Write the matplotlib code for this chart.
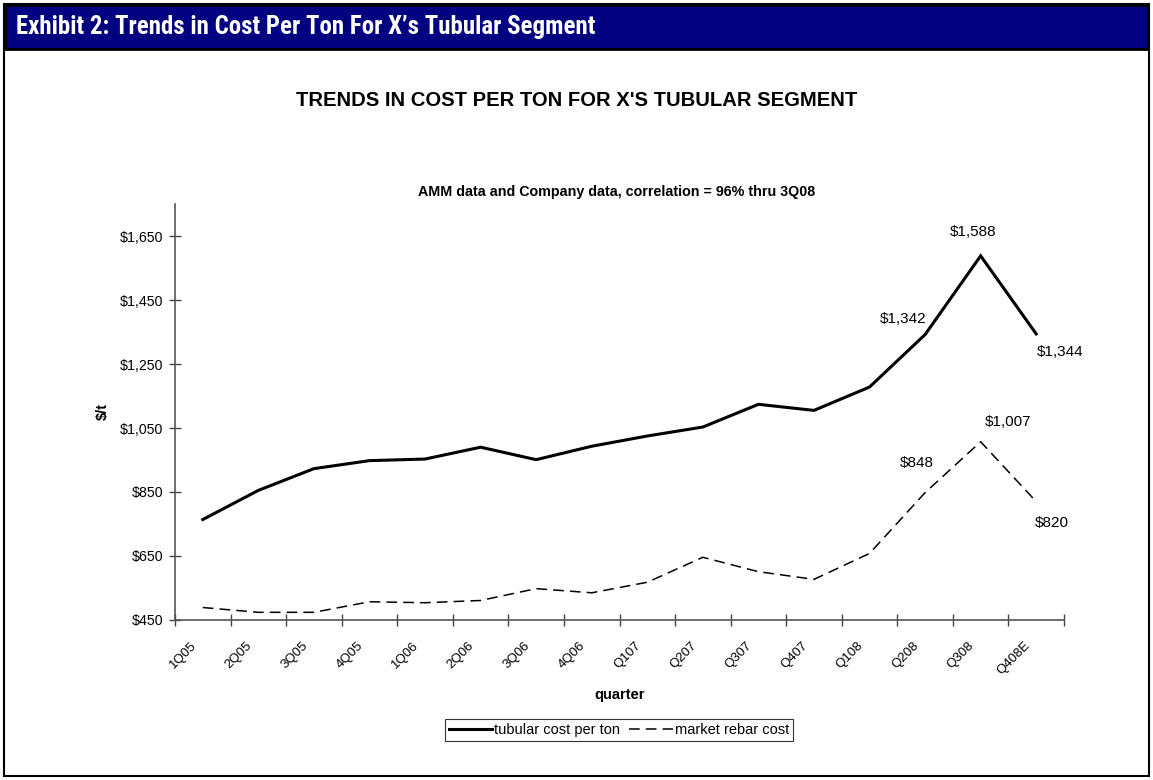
import matplotlib
matplotlib.use("Agg")
import matplotlib.pyplot as plt
from matplotlib import font_manager as fm
from matplotlib.patches import Rectangle
from matplotlib.transforms import ScaledTranslation
from matplotlib.ticker import FuncFormatter, FixedLocator, NullFormatter

plt.rcParams['font.family'] = ['Liberation Sans', 'DejaVu Sans']

quarters = ["1Q05", "2Q05", "3Q05", "4Q05", "1Q06", "2Q06", "3Q06", "4Q06",
            "Q107", "Q207", "Q307", "Q407", "Q108", "Q208", "Q308", "Q408E"]
tubular = [764, 855, 923, 948, 953, 990, 951, 993,
           1025, 1053, 1124, 1105, 1178, 1342, 1588, 1344]
rebar = [489, 474, 474, 507, 504, 511, 548, 535,
         568, 646, 601, 577, 658, 848, 1007, 820]
yticks = [450, 650, 850, 1050, 1250, 1450, 1650]

# pick a condensed font for the header if one exists
header_family, header_size = 'Liberation Sans', 15
for fam, size in [('Liberation Sans Narrow', 18), ('Roboto Condensed', 17.9),
                  ('DejaVu Sans Condensed', 15.5)]:
    try:
        fm.findfont(fm.FontProperties(family=fam, weight='bold'), fallback_to_default=False)
        header_family, header_size = fam, size
        break
    except Exception:
        pass

W, H = 1153, 780
fig = plt.figure(figsize=(W / 100, H / 100), dpi=100)

# frame and header bar
fig.patches.append(Rectangle((4 / W, 4 / H), 1145 / W, 772 / H, transform=fig.transFigure,
                             facecolor='none', edgecolor='black', linewidth=1.5, zorder=-1))
fig.patches.append(Rectangle((5 / W, 1 - 49 / H), 1143 / W, 44 / H, transform=fig.transFigure,
                             facecolor='#000080', edgecolor='black', linewidth=2, zorder=-1))
fig.text(16 / W, 1 - 27 / H, "Exhibit 2: Trends in Cost Per Ton For X\u2019s Tubular Segment",
         color='white', fontsize=header_size, fontweight='bold', ha='left', va='center',
         family=[header_family, 'DejaVu Sans'])

fig.text(577 / W, 1 - 101 / H, "TRENDS IN COST PER TON FOR X'S TUBULAR SEGMENT",
         fontsize=14.6, fontweight='bold', ha='center', va='center')
fig.text(617 / W, 1 - 192 / H, "AMM data and Company data, correlation = 96% thru 3Q08",
         fontsize=10.3, fontweight='bold', ha='center', va='center')

ax = fig.add_axes([175 / W, 160 / H, 889 / W, 416 / H])
ax.patch.set_alpha(0)
x = list(range(len(quarters)))
ax.plot(x, tubular, color='black', linewidth=2.2, solid_joinstyle='miter',
        label='tubular cost per ton')
ax.plot(x, rebar, color='black', linewidth=1.1, dashes=(7, 4),
        label='market rebar cost')

ax.set_xlim(-0.5, len(quarters) - 0.5)
ax.set_ylim(450, 1750)
ax.yaxis.set_major_locator(FixedLocator(yticks))
ax.yaxis.set_major_formatter(FuncFormatter(lambda v, p: "${:,.0f}".format(v)))
ax.xaxis.set_major_locator(FixedLocator([i - 0.5 for i in range(len(quarters) + 1)]))
ax.xaxis.set_major_formatter(NullFormatter())
ax.set_xticks(x, quarters, minor=True)
ax.tick_params(axis='x', which='minor', length=0, pad=14, labelsize=9.5, labelrotation=45)
shift = ScaledTranslation(-4 / 100, 0, fig.dpi_scale_trans)
for lab in ax.get_xticklabels(minor=True):
    lab.set_ha('right')
    lab.set_va('top')
    lab.set_transform(lab.get_transform() + shift)
ax.tick_params(axis='x', which='major', direction='inout', length=9, width=1, color='#444444')
ax.tick_params(axis='y', direction='inout', length=9, width=1, color='#444444', labelsize=10.2, pad=4)
for s in ['top', 'right']:
    ax.spines[s].set_visible(False)
for s in ['left', 'bottom']:
    ax.spines[s].set_color('#555555')
    ax.spines[s].set_linewidth(1.2)

ax.set_ylabel("$/t", fontsize=10.5, fontweight='bold', labelpad=7)
ax.set_xlabel("quarter", fontsize=10.5, fontweight='bold', labelpad=7.5)

# value annotations
ann = [
    (13, tubular[13], -22, 16),
    (14, tubular[14], -8, 24),
    (15, tubular[15], 24, -18),
    (13, rebar[13], -8, 30),
    (14, rebar[14], 27, 20),
    (15, rebar[15], 16, -21),
]
for xi, yi, dx, dy in ann:
    ax.annotate("${:,}".format(yi), (xi, yi), xytext=(dx, dy), textcoords='offset pixels',
                ha='center', va='center', fontsize=11)

leg = fig.legend(loc='center', bbox_to_anchor=(619 / W, 1 - 730 / H), ncol=2,
                 fontsize=10.5, frameon=True, fancybox=False, edgecolor='black',
                 handlelength=3.0, handletextpad=0.15, columnspacing=0.6,
                 borderpad=0.25, borderaxespad=0)
leg.get_frame().set_linewidth(0.8)

fig.savefig("out.png", dpi=100)
